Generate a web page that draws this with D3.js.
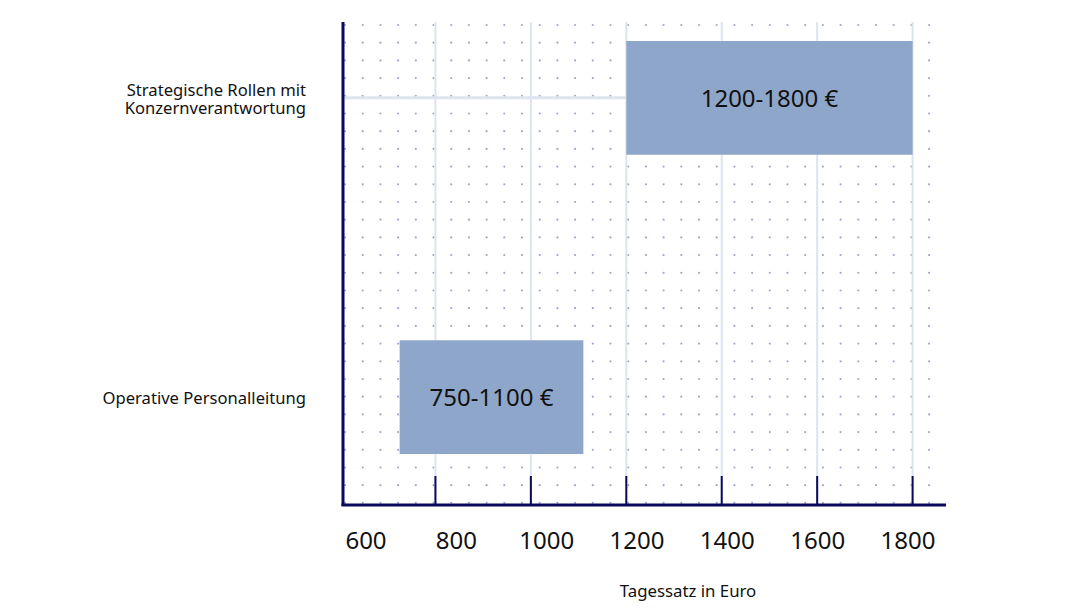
<!DOCTYPE html>
<html><head><meta charset="utf-8">
<script src="https://cdn.jsdelivr.net/npm/d3@7/dist/d3.min.js"></script>
<style>body{margin:0;background:#fff}svg{display:block;font-family:"Noto Sans","Open Sans",sans-serif}</style>
</head><body><svg id="c" width="1080" height="612"></svg>
<script>
const categories = ["Strategische Rollen mit\nKonzernverantwortung", "Operative Personalleitung"];
const rangeStart = [1200, 725];
const rangeEnd = [1800, 1110];
const barLabels = ["1200-1800 €", "750-1100 €"];
const gridTicks = [800, 1000, 1200, 1400, 1600, 1800];
const tickLabels = ["600", "800", "1000", "1200", "1400", "1600", "1800"];
const axisTitle = "Tagessatz in Euro";

const svg = d3.select("#c");
const navy = "#0a0a5c";
const x = d3.scaleLinear().domain([600, 1870]).range([340, 946]);
const y = d3.scaleBand().domain(categories).range([41, 454]).paddingInner(0.62).paddingOuter(0);
const plotTop = 22, plotBottom = 505, axisX = 343;

// dot grid
const dots = [];
for (let i = 0; i <= 33; i++) for (let j = 0; j <= 27; j++) dots.push([345 + i * 17.7, 25 + j * 17.7]);
svg.append("g").selectAll("circle").data(dots).join("circle")
  .attr("cx", d => d[0]).attr("cy", d => d[1]).attr("r", 1.1).attr("fill", "#a6a6cc");

// gridlines
svg.append("g").selectAll("line").data(gridTicks).join("line")
  .attr("x1", d => x(d)).attr("x2", d => x(d)).attr("y1", plotTop).attr("y2", plotBottom)
  .attr("stroke", "#dde3ef").attr("stroke-width", 2);

// connector line for first category
svg.append("line").attr("x1", axisX).attr("x2", x(rangeStart[0]))
  .attr("y1", y(categories[0]) + y.bandwidth() / 2).attr("y2", y(categories[0]) + y.bandwidth() / 2)
  .attr("stroke", "#dde3ef").attr("stroke-width", 3);

// bars
const data = categories.map((c, i) => ({c, s: rangeStart[i], e: rangeEnd[i], l: barLabels[i]}));
svg.append("g").selectAll("rect").data(data).join("rect")
  .attr("x", d => x(d.s)).attr("width", d => x(d.e) - x(d.s))
  .attr("y", d => y(d.c)).attr("height", y.bandwidth()).attr("fill", "#8ea6c9");
svg.append("g").selectAll("text").data(data).join("text")
  .attr("x", d => (x(d.s) + x(d.e)) / 2).attr("y", d => y(d.c) + y.bandwidth() / 2)
  .attr("dy", "0.36em").attr("text-anchor", "middle").attr("font-size", 24).attr("fill", "#111")
  .text(d => d.l);

// axes
svg.append("line").attr("x1", axisX).attr("x2", axisX).attr("y1", plotTop).attr("y2", plotBottom + 1)
  .attr("stroke", navy).attr("stroke-width", 3);
svg.append("line").attr("x1", axisX - 1.5).attr("x2", 946).attr("y1", plotBottom).attr("y2", plotBottom)
  .attr("stroke", navy).attr("stroke-width", 3);
svg.append("g").selectAll("line").data(gridTicks).join("line")
  .attr("x1", d => x(d)).attr("x2", d => x(d)).attr("y1", 476).attr("y2", plotBottom)
  .attr("stroke", navy).attr("stroke-width", 2);

// tick labels
const lx = d3.scalePoint().domain(tickLabels).range([366, 908]);
svg.append("g").selectAll("text").data(tickLabels).join("text")
  .attr("x", d => lx(d)).attr("y", 549).attr("text-anchor", "middle")
  .attr("font-size", 24).attr("fill", "#111").text(d => d);

// y labels (one text element per line)
const ylLines = [];
categories.forEach(c => {
  const lines = c.split("\n");
  lines.forEach((ln, k) => ylLines.push({c, ln, off: (k - (lines.length - 1) / 2) * 18}));
});
svg.append("g").selectAll("text").data(ylLines).join("text")
  .attr("text-anchor", "end").attr("font-size", 16.6).attr("fill", "#111")
  .attr("x", 306).attr("y", d => y(d.c) + y.bandwidth() / 2 + d.off + 1)
  .attr("dy", "0.35em").text(d => d.ln);

svg.append("text").attr("x", 688).attr("y", 597).attr("text-anchor", "middle")
  .attr("font-size", 16.8).attr("fill", "#111").text(axisTitle);
</script></body></html>
